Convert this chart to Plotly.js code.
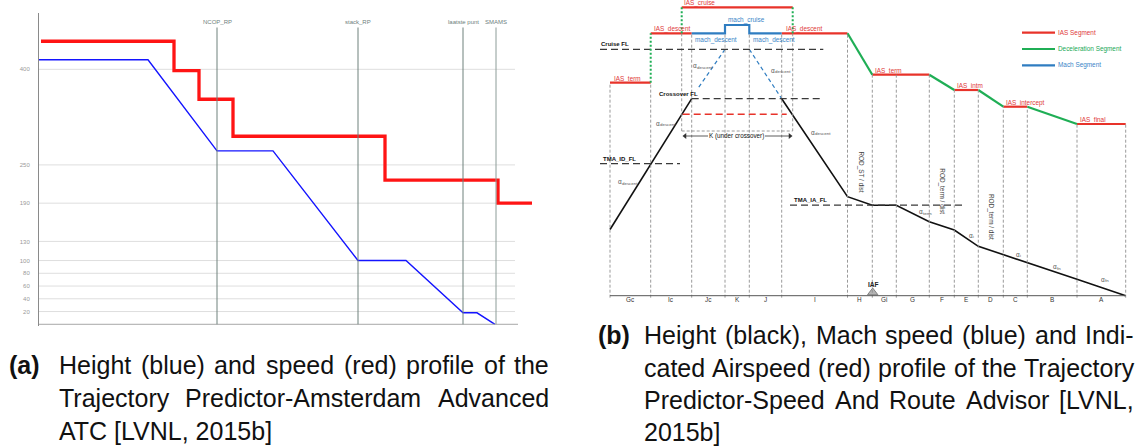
<!DOCTYPE html>
<html><head><meta charset="utf-8">
<script src="https://cdn.plot.ly/plotly-3.0.1.min.js"></script>
<style>html,body{margin:0;padding:0;background:#fff;}#chart{width:1140px;height:447px;}</style>
</head><body><div id="chart"></div>
<script>
const W = 1140, H = 447;

// ---------- Panel (a): TP-AAA ----------
const flTicks = [20, 40, 60, 80, 100, 130, 190, 250, 400];
const heightA_x = [0, 109, 178, 234, 319, 367, 424, 438, 456];
const heightA_fl = [415, 415, 272, 272, 100, 100, 18, 18, 0];
const speedA_x = [2, 135, 160, 194, 346, 459, 493];
const speedA_y = [444, 398, 353, 295, 226, 190, 190];
const waypointNames = ['NCOP_RP', 'stack_RP', 'laatste punt', 'SMAMS'];
const waypointX = [178, 319, 424, 457];

// ---------- Panel (b): TP-SARA ----------
const segNames = ['Gc','Ic','Jc','K','J','I','H','Gi','G','F','E','D','C','B','A'];
const segBounds = [10, 50.7, 91.7, 125, 149.3, 181.7, 247.5, 272.3, 296.3, 329.3, 354.3, 378.3, 403.3, 427.3, 477, 525.7];
const boundTop = [213, 213, 262.4, 262.4, 262.4, 262.4, 262.4, 221, 221, 221, 205.7, 205.7, 189, 189, 171.7, 171.7];

const iasNames = ['IAS_term','IAS_descent','IAS_cruise','IAS_descent','IAS_term','IAS_intm','IAS_intercept','IAS_final'];
const iasX0 = [10, 50.7, 81.7, 181.7, 272.3, 354.3, 403.3, 477];
const iasX1 = [50.7, 91.7, 192.7, 247.5, 329.3, 378.3, 427.3, 525.7];
const iasLevel = [213, 262.4, 288.4, 262.4, 221, 205.7, 189, 171.7];
const iasLabelX = [12.7, 53, 83, 185, 274, 356, 405, 479];

const machX = [91.7, 125, 125, 149.3, 149.3, 181.7];
const machY = [262.4, 262.4, 270.7, 270.7, 262.4, 262.4];
const machLabels = ['mach_descent', 'mach_cruise', 'mach_descent'];
const machLabelX = [94, 127, 152];
const machLabelY = [255.7, 275.7, 255.7];

const decelX = [247.5, 272.3, null, 329.3, 354.3, null, 378.3, 403.3, null, 427.3, 477];
const decelY = [262.4, 221, null, 221, 205.7, null, 205.7, 189, null, 189, 171.7];
const transX = [50.7, 81.7, 192.7];
const transY0 = [213, 262.4, 288.4];
const transY1 = [262.4, 288.4, 262.4];

const heightX = [10, 91.7, null, 181.7, 247.5, 272.3, 296.3, 329.3, 354.3, 378.3, 403.3, 427.3, 477, 525.7];
const heightY = [66.2, 197, null, 197, 99, 90.5, 90.5, 74, 65.7, 49.4, 41.2, 33.3, 16.5, 0];
const machDescX = [125, 97, null, 149.3, 181.7];
const machDescY = [246.4, 206, null, 246.4, 197];

const flNames = ['Cruise FL', 'Crossover FL', 'TMA_ID_FL', 'TMA_IA_FL'];
const flLevel = [246.4, 197, 132, 90.5];
const flX0 = [0, 91.7, 0, 190];
const flX1 = [223.3, 221.7, 80, 363.3];
const flLabelX = [0, 58.3, 1.7, 192.7];
const crossIasLevel = 181.4, crossIasX = [82.7, 186.7];

const alphaText = ['descent','descent','descent','descent','descent','term','i','i','fn','fn'];
const alphaX = [92, 170, 55, 210, 16.7, 318, 368, 415, 451.7, 500];
const alphaY = [230, 225.7, 172.4, 163.4, 114, 84, 60.7, 41.7, 29, 16.4];

const rodText = ['ROD_ST / dist', 'ROD_term / dist', 'ROD_term / dist'];
const rodX = [260.5, 341.7, 391.7];
const rodY = [123.7, 104.7, 79];

const kSpanX = [83, 192];
const kLevel = 159.7;

const legendNames = ['IAS Segment', 'Deceleration Segment', 'Mach Segment'];
const legendY = [263, 246.7, 230.4];

const captionA = ['Height (blue) and speed (red) profile of the', 'Trajectory Predictor-Amsterdam Advanced', 'ATC [LVNL, 2015b]'];
const captionB = ['Height (black), Mach speed (blue) and Indi-', 'cated Airspeed (red) profile of the Trajectory', 'Predictor-Speed And Route Advisor [LVNL,', '2015b]'];

// ---------- styles ----------
const RED = '#e8332a', GREEN = '#1fae55', BLUE = '#2f7dc1';
const RED_T = '#e03a3a', BLUE_T = '#3a86c8', GREEN_T = '#22a858';
const FONT = 'Liberation Sans';
const SF = 6.4;

const traces = [];
const shapes = [];
const anns = [];

// Panel a traces
traces.push({x: heightA_x, y: heightA_fl, xaxis: 'x', yaxis: 'y', mode: 'lines', line: {color: '#1414ff', width: 1.4}, hoverinfo: 'skip'});
traces.push({x: speedA_x, y: speedA_y, xaxis: 'x', yaxis: 'y', mode: 'lines', line: {color: '#ff1414', width: 3.3, shape: 'hv'}, hoverinfo: 'skip'});

flTicks.forEach(v => shapes.push({type: 'line', xref: 'x', yref: 'y', x0: 0, x1: 476, y0: v, y1: v, line: {color: '#dedede', width: 1}, layer: 'below'}));
shapes.push({type: 'line', xref: 'x', yref: 'y', x0: 0, x1: 479, y0: 0, y1: 0, line: {color: '#a8a8a8', width: 1}});
waypointX.forEach((x, i) => {
  shapes.push({type: 'line', xref: 'x', yref: 'y', x0: x, x1: x, y0: 0, y1: 465.6, line: {color: i === 3 ? '#8c9c98' : '#6e817d', width: 1}});
  anns.push({xref: 'x', yref: 'y', x: x, y: 466, text: waypointNames[i], showarrow: false, yanchor: 'bottom', font: {family: FONT, size: 6, color: '#6e817d'}});
});

// Panel b: segment boundaries
segBounds.forEach((x, i) => shapes.push({type: 'line', xref: 'x2', yref: 'y2', x0: x, x1: x, y0: -2, y1: boundTop[i], line: {color: '#8e8e8e', width: 0.9, dash: '3px,2px'}}));
// K bracket
shapes.push({type: 'line', xref: 'x2', yref: 'y2', x0: 81.7, x1: 81.7, y0: 262.4, y1: 164.7, line: {color: '#8e8e8e', width: 0.9, dash: '3px,2px'}});
shapes.push({type: 'line', xref: 'x2', yref: 'y2', x0: 192.7, x1: 192.7, y0: 262.4, y1: 164.7, line: {color: '#8e8e8e', width: 0.9, dash: '3px,2px'}});
shapes.push({type: 'line', xref: 'x2', yref: 'y2', x0: 81.7, x1: 192.7, y0: 164.7, y1: 164.7, line: {color: '#8e8e8e', width: 0.9, dash: '3px,2px'}});
// axis
shapes.push({type: 'line', xref: 'x2', yref: 'y2', x0: segBounds[0], x1: segBounds[segBounds.length - 1], y0: 0, y1: 0, line: {color: '#555', width: 1}});
// flight levels
flNames.forEach((n, i) => {
  shapes.push({type: 'line', xref: 'x2', yref: 'y2', x0: flX0[i], x1: flX1[i], y0: flLevel[i], y1: flLevel[i], line: {color: '#3a3a3a', width: 1.3, dash: '7px,4px'}});
  anns.push({xref: 'x2', yref: 'y2', x: flLabelX[i], y: flLevel[i] + 5, text: '<b>' + n + '</b>', showarrow: false, xanchor: 'left', yanchor: 'middle', borderpad: 0, font: {family: FONT, size: 6, color: '#111'}});
});
shapes.push({type: 'line', xref: 'x2', yref: 'y2', x0: crossIasX[0], x1: crossIasX[1], y0: crossIasLevel, y1: crossIasLevel, line: {color: RED, width: 1.5, dash: '7px,4px'}});

// transitions (green dotted)
transX.forEach((x, i) => shapes.push({type: 'line', xref: 'x2', yref: 'y2', x0: x, x1: x, y0: transY0[i], y1: transY1[i], line: {color: GREEN, width: 2, dash: '2px,2px'}}));

// height profile
traces.push({x: heightX, y: heightY, xaxis: 'x2', yaxis: 'y2', mode: 'lines', line: {color: '#111', width: 1.6}, hoverinfo: 'skip', connectgaps: false});
traces.push({x: machDescX, y: machDescY, xaxis: 'x2', yaxis: 'y2', mode: 'lines', line: {color: BLUE, width: 1.2, dash: '4px,3px'}, hoverinfo: 'skip', connectgaps: false});

// IAS segments
const iasXs = [], iasYs = [];
iasX0.forEach((x, i) => { iasXs.push(x, iasX1[i], null); iasYs.push(iasLevel[i], iasLevel[i], null); });
traces.push({x: iasXs, y: iasYs, xaxis: 'x2', yaxis: 'y2', mode: 'lines', line: {color: RED, width: 2.2}, hoverinfo: 'skip', connectgaps: false});
traces.push({x: machX, y: machY, xaxis: 'x2', yaxis: 'y2', mode: 'lines', line: {color: BLUE, width: 2.2}, hoverinfo: 'skip'});
traces.push({x: decelX, y: decelY, xaxis: 'x2', yaxis: 'y2', mode: 'lines', line: {color: GREEN, width: 2.2}, hoverinfo: 'skip', connectgaps: false});

iasNames.forEach((n, i) => anns.push({xref: 'x2', yref: 'y2', x: iasLabelX[i], y: iasLevel[i] + 4.2, text: n, showarrow: false, xanchor: 'left', yanchor: 'middle', borderpad: 0, font: {family: FONT, size: SF, color: RED_T}}));
machLabels.forEach((n, i) => anns.push({xref: 'x2', yref: 'y2', x: machLabelX[i], y: machLabelY[i], text: n, showarrow: false, xanchor: 'left', yanchor: 'middle', borderpad: 0, font: {family: FONT, size: SF, color: BLUE_T}}));

// alpha labels (alpha + separate smaller subscript text)
alphaText.forEach((t, i) => {
  anns.push({xref: 'x2', yref: 'y2', x: alphaX[i], y: alphaY[i], text: 'α', showarrow: false, xanchor: 'left', yanchor: 'middle', borderpad: 0, font: {family: FONT, size: 6.4, color: '#555'}});
  anns.push({xref: 'x2', yref: 'y2', x: alphaX[i] + 3.8, y: alphaY[i] - 1.6, text: t, showarrow: false, xanchor: 'left', yanchor: 'middle', borderpad: 0, font: {family: FONT, size: 4.4, color: '#555'}});
});
// rotated ROD labels
rodText.forEach((t, i) => anns.push({xref: 'x2', yref: 'y2', x: rodX[i], y: rodY[i], text: t, textangle: 90, showarrow: false, borderpad: 0, font: {family: FONT, size: SF, color: '#444'}}));

// K arrow: label, shafts and heads
anns.push({xref: 'x2', yref: 'y2', x: (kSpanX[0] + kSpanX[1]) / 2 - 1, y: kLevel, text: 'K (under crossover)', showarrow: false, borderpad: 0, font: {family: FONT, size: 6.3, color: '#111'}});
shapes.push({type: 'line', xref: 'x2', yref: 'y2', x0: kSpanX[0] + 1, x1: 108, y0: kLevel, y1: kLevel, line: {color: '#333', width: 0.8}});
shapes.push({type: 'line', xref: 'x2', yref: 'y2', x0: 165, x1: kSpanX[1] - 1, y0: kLevel, y1: kLevel, line: {color: '#333', width: 0.8}});
traces.push({x: [kSpanX[0] + 2, kSpanX[1] - 2], y: [kLevel, kLevel], xaxis: 'x2', yaxis: 'y2', mode: 'markers', marker: {symbol: ['triangle-left', 'triangle-right'], size: 5, color: '#333'}, hoverinfo: 'skip'});

// segment names
segNames.forEach((n, i) => anns.push({xref: 'x2', yref: 'y2', x: (segBounds[i] + segBounds[i + 1]) / 2, y: -3.3, text: n, showarrow: false, borderpad: 0, font: {family: FONT, size: SF, color: '#333'}}));
// IAF
traces.push({x: [272.7], y: [3.2], xaxis: 'x2', yaxis: 'y2', mode: 'markers', marker: {symbol: 'triangle-up', size: 9, color: '#b4b4b4', line: {color: '#808080', width: 1}}, hoverinfo: 'skip'});
anns.push({xref: 'x2', yref: 'y2', x: 273, y: 11.5, text: '<b>IAF</b>', showarrow: false, borderpad: 0, font: {family: FONT, size: 6.6, color: '#222'}});

// legend
const legColors = [RED, GREEN, BLUE], legTextColors = [RED_T, GREEN_T, BLUE_T];
legendNames.forEach((n, i) => {
  shapes.push({type: 'line', xref: 'x2', yref: 'y2', x0: 422, x1: 455, y0: legendY[i], y1: legendY[i], line: {color: legColors[i], width: 2.2}});
  anns.push({xref: 'x2', yref: 'y2', x: 457, y: legendY[i], text: n, showarrow: false, xanchor: 'left', yanchor: 'middle', borderpad: 0, font: {family: FONT, size: SF, color: legTextColors[i]}});
});

// ---------- captions ----------
const CAP = 25;
const ctx = document.createElement('canvas').getContext('2d');
function measure(t, bold) { ctx.font = (bold ? 'bold ' : '') + CAP + 'px "' + FONT + '"'; return ctx.measureText(t).width; }
function capAnn(text, px, py, bold) {
  return {xref: 'paper', yref: 'paper', x: px / W, y: 1 - py / H, text: bold ? '<b>' + text + '</b>' : text, showarrow: false, xanchor: 'left', yanchor: 'middle', borderpad: 0, font: {family: FONT, size: CAP, color: '#111'}};
}
function layoutLine(text, x0, x1, py, justify) {
  if (!justify) { anns.push(capAnn(text, x0, py)); return; }
  const words = text.split(' ');
  const widths = words.map(w => measure(w));
  const total = widths.reduce((a, b) => a + b, 0);
  const gap = (x1 - x0 - total) / (words.length - 1);
  let x = x0;
  words.forEach((w, i) => { anns.push(capAnn(w, x, py)); x += widths[i] + gap; });
}
const rowsA = [365, 398, 431], rowsB = [335, 367.5, 400, 432];
anns.push(capAnn('(a)', 8, rowsA[0], true));
captionA.forEach((t, i) => layoutLine(t, 58, 548, rowsA[i], i < captionA.length - 1));
anns.push(capAnn('(b)', 597, rowsB[0], true));
captionB.forEach((t, i) => layoutLine(t, 643, 1133, rowsB[i], i < captionB.length - 1));

// ---------- layout ----------
const layout = {
  width: W, height: H, margin: {l: 0, r: 0, t: 0, b: 0},
  paper_bgcolor: '#fff', plot_bgcolor: 'rgba(0,0,0,0)', showlegend: false,
  font: {family: FONT},
  xaxis: {domain: [39 / W, 540 / W], range: [0, 501], showgrid: false, zeroline: false, showticklabels: false, showline: false, fixedrange: true},
  yaxis: {domain: [1 - 326.2 / H, 1 - 12.7 / H], range: [-3, 488.8], tickvals: flTicks, ticktext: flTicks.map(String), showgrid: false, zeroline: false,
          showline: true, linecolor: '#8a8a8a', linewidth: 1, ticks: '', ticklabelstandoff: 7, tickfont: {family: FONT, size: 6, color: '#9a9a9a'}, fixedrange: true},
  xaxis2: {domain: [600 / W, 1135 / W], range: [0, 535], anchor: 'y2', visible: false, fixedrange: true},
  yaxis2: {domain: [1 - 300.7 / H, 1], range: [-5, 295.7], anchor: 'x2', visible: false, fixedrange: true},
  shapes: shapes, annotations: anns
};
Plotly.newPlot('chart', traces, layout, {staticPlot: true, displayModeBar: false});
</script></body></html>
